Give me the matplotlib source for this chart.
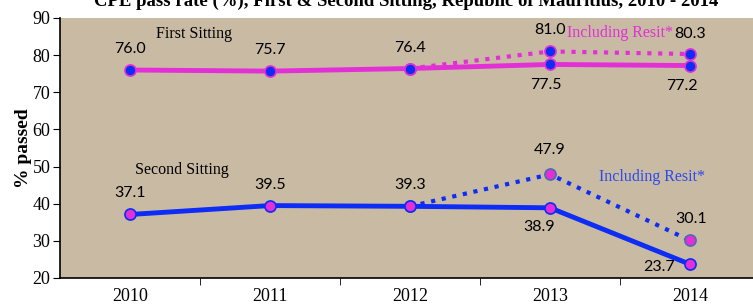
import matplotlib
matplotlib.use("Agg")
from matplotlib import pyplot as plt

# Data
years = ["2010", "2011", "2012", "2013", "2014"]
first_sitting = [76.0, 75.7, 76.4, 77.5, 77.2]
second_sitting = [37.1, 39.5, 39.3, 38.9, 23.7]
resit_years_idx = [2, 3, 4]
first_resit = [76.4, 81.0, 80.3]
second_resit = [39.3, 47.9, 30.1]

MAGENTA = "#e22fd6"
BLUE = "#0d2cf5"
SERIF = "Liberation Serif"
SANS = "Lato"

fig = plt.figure(figsize=(7.53, 3.07), dpi=100)
fig.patch.set_facecolor("white")
ax = fig.add_axes([60 / 753, 29 / 307, 700 / 753, 260 / 307])
ax.set_facecolor("#c9baa4")

x = list(range(len(years)))

# Dotted "including resit" lines first, so solid lines sit on top
ax.plot(resit_years_idx, first_resit, linestyle=(0, (1, 1.6)), color=MAGENTA, linewidth=3,
        marker="o", markersize=8, markerfacecolor=BLUE, markeredgecolor=MAGENTA, markeredgewidth=1.2, zorder=3)
ax.plot(resit_years_idx, second_resit, linestyle=(0, (1, 1.6)), color=BLUE, linewidth=3,
        marker="o", markersize=8, markerfacecolor=MAGENTA, markeredgecolor="#4f6ab0", markeredgewidth=1.2, zorder=3)

ax.plot(x, first_sitting, color=MAGENTA, linewidth=3.5,
        marker="o", markersize=8, markerfacecolor=BLUE, markeredgecolor=MAGENTA, markeredgewidth=1.2, zorder=4)
ax.plot(x, second_sitting, color=BLUE, linewidth=3.5,
        marker="o", markersize=8, markerfacecolor=MAGENTA, markeredgecolor=BLUE, markeredgewidth=1.2, zorder=4)

# Value labels (offsets in pixels from the point)
lbl = dict(fontsize=11.5, family=SANS, color="black", ha="center", va="center", zorder=5)


def label(xi, yi, dx, dy):
    ax.annotate(f"{yi:.1f}", (xi, yi), xytext=(dx, dy), textcoords="offset pixels", **lbl)


for i in range(3):
    label(x[i], first_sitting[i], 0, 21)
    label(x[i], second_sitting[i], 0, 21)
label(x[3], first_sitting[3], -4, -21)
label(x[4], first_sitting[4], -8, -20)
label(x[3], second_sitting[3], -11, -19)
label(x[4], second_sitting[4], -31, -3)
label(resit_years_idx[1], first_resit[1], 0, 21)
label(resit_years_idx[2], first_resit[2], 0, 20)
label(resit_years_idx[1], second_resit[1], 0, 24)
label(resit_years_idx[2], second_resit[2], 1, 21)

# Series captions
ax.text(0.46, 85.7, "First Sitting", family=SERIF, fontsize=11.5, ha="center", va="center", zorder=5)
ax.text(0.37, 49.1, "Second Sitting", family=SERIF, fontsize=11.5, ha="center", va="center", zorder=5)
ax.text(3.5, 86.0, "Including Resit*", family=SERIF, fontsize=11.5, color=MAGENTA, ha="center", va="center", zorder=5)
ax.text(3.73, 47.2, "Including Resit*", family=SERIF, fontsize=11.5, color="#2a4af0", ha="center", va="center", zorder=5)

# Axes
ax.set_xlim(-0.5, 4.5)
ax.set_ylim(20, 90)
ax.set_yticks(range(20, 91, 10))
ax.set_xticks(x)
ax.set_xticklabels(years)
ax.set_xticks([i + 0.5 for i in range(4)], minor=True)
ax.tick_params(axis="x", which="major", length=0, pad=7, labelsize=13)
ax.tick_params(axis="x", which="minor", length=5, direction="out")
ax.tick_params(axis="y", length=5, direction="out", labelsize=13, pad=2)
for lab in ax.get_xticklabels() + ax.get_yticklabels():
    lab.set_family(SERIF)
for side in ("top", "right"):
    ax.spines[side].set_visible(False)
ax.spines["left"].set_linewidth(1.2)
ax.spines["bottom"].set_linewidth(1.2)

ax.set_ylabel("% passed", family=SERIF, fontsize=14, fontweight="bold", labelpad=0)

fig.text(406 / 753, 0.995, "CPE pass rate (%), First & Second Sitting, Republic of Mauritius, 2010 - 2014",
         family=SERIF, fontsize=13.5, fontweight="bold", ha="center", va="center")

fig.savefig("out.png", dpi=100)
